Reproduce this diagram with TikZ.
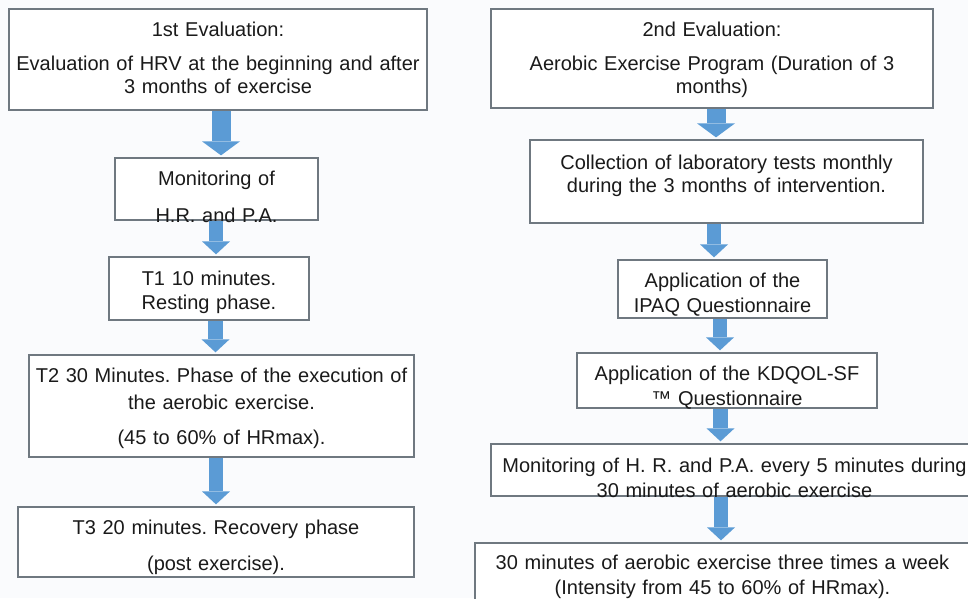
\documentclass[tikz,border=0pt]{standalone}
\usepackage{fontspec}
\setmainfont{Liberation Sans}
\frenchspacing
\usetikzlibrary{arrows.meta}
\definecolor{bgcol}{HTML}{FAFBFD}
\definecolor{framegray}{HTML}{6F7880}
\definecolor{arrowblue}{HTML}{5B9BD5}
\definecolor{inkcol}{HTML}{1A1A1A}

\tikzset{
  stage/.style={draw=framegray, line width=1.3pt, fill=white, text=inkcol,
    align=center, inner xsep=4pt, inner ysep=2pt, text height=0pt,
    font=\fontsize{20}{23}\selectfont},
  flow/.style={draw=arrowblue, line width=14.5pt, shorten >=2pt,
    -{Triangle[width=28pt,length=13pt,line width=0pt]}},
  wideflow/.style={flow, line width=19pt,
    -{Triangle[width=38pt,length=14pt,line width=0pt]}}
}

\begin{document}
\begin{tikzpicture}[x=1pt,y=-1pt]
  \useasboundingbox (0,0) rectangle (968,598);
  \fill[bgcol] (0,0) rectangle (968,598);
  \clip (0,0) rectangle (968,598);

  % first evaluation
  \node[stage, text width=410pt, minimum height=101pt, text depth=47pt] (eval1) at (218,59.5)
    {1st Evaluation:\\[11pt]Evaluation of HRV at the beginning and after\\3 months of exercise};
  \node[stage, text width=195pt, minimum height=62pt, text depth=8pt] (mon) at (216.5,189)
    {Monitoring of\\[14pt]H.R. and P.A.};
  \node[stage, text width=192pt, minimum height=63pt, text depth=7pt] (rest) at (209,288.5)
    {T1 10 minutes.\\[1pt]Resting phase.};
  \node[stage, text width=377pt, minimum height=102pt, text depth=48pt] (exec) at (221.5,406)
    {T2 30 Minutes. Phase of the execution of\\[4pt]the aerobic exercise.\\[12pt](45 to 60\% of HRmax).};
  \node[stage, text width=388pt, minimum height=70pt, text depth=16pt] (recov) at (216,542)
    {T3 20 minutes. Recovery phase\\[13pt](post exercise).};

  % second evaluation
  \node[stage, text width=434pt, minimum height=99pt, text depth=45pt] (eval2) at (712,58.5)
    {2nd Evaluation:\\[11pt]Aerobic Exercise Program (Duration of 3\\months)};
  \node[stage, text width=385pt, minimum height=83pt, text depth=25pt] (labs) at (726.5,181.5)
    {Collection of laboratory tests monthly\\during the 3 months of intervention.};
  \node[stage, text width=201pt, minimum height=58pt, text depth=4pt] (ipaq) at (722.5,289)
    {Application of the\\[2pt]IPAQ Questionnaire};
  \node[stage, text width=292pt, minimum height=55pt, text depth=1pt] (kdq) at (727,380.5)
    {Application of the KDQOL-SF\\[2pt]™ Questionnaire};
  \node[stage, text width=479pt, minimum height=52pt, text height=4pt, text depth=0pt] (hrpa) at (734.5,470)
    {Monitoring of H. R. and P.A. every 5 minutes during\\[2pt]30 minutes of aerobic exercise};
  \node[stage, text width=487pt, minimum height=67pt, text depth=14pt] (week) at (722.5,576.5)
    {30 minutes of aerobic exercise three times a week\\[2pt](Intensity from 45 to 60\% of HRmax).};

  % arrows
  \foreach \from/\to/\xpos/\kind in {eval1/mon/221/wideflow, mon/rest/216/flow,
      rest/exec/215.5/flow, exec/recov/216/flow, eval2/labs/716/wideflow,
      labs/ipaq/714/flow, ipaq/kdq/720/flow, kdq/hrpa/720.5/flow, hrpa/week/721/flow}{
    \coordinate (col) at (\xpos,0);
    \draw[\kind] (\from.south -| col) -- (\to.north -| col);
  }
\end{tikzpicture}
\end{document}
